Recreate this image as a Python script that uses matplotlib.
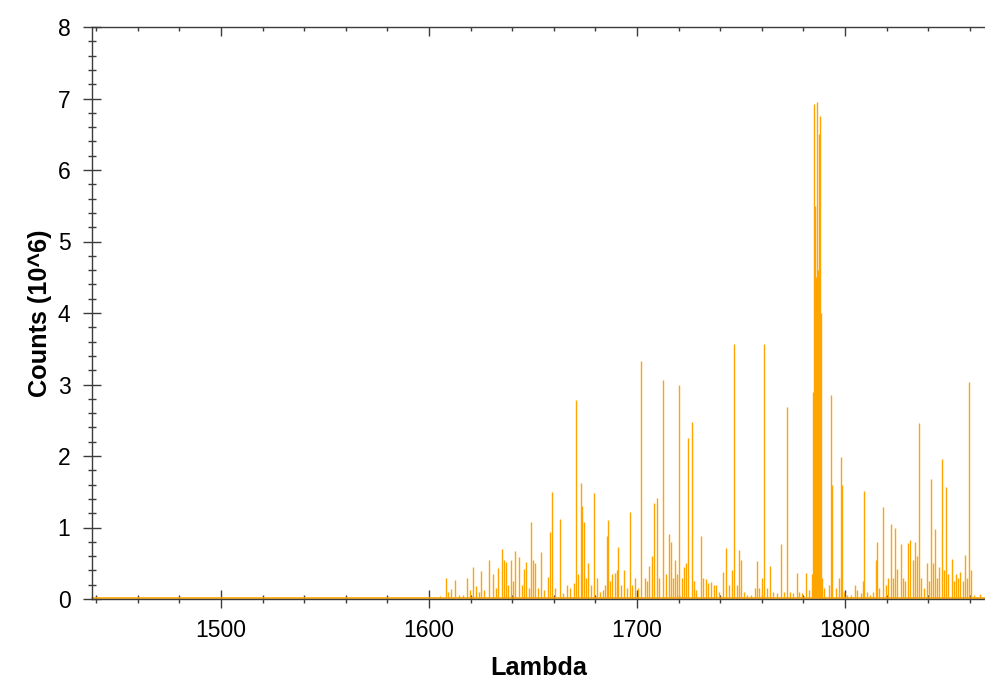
import matplotlib
matplotlib.use("Agg")
import matplotlib.pyplot as plt
from matplotlib.ticker import MultipleLocator

plt.rcParams['font.family'] = ['Liberation Sans', 'DejaVu Sans']

# posições dos picos (Lambda) e alturas (Counts em 10^6)
peak_lambda = [
    1590.0, 1603.0, 1605.5, 1608.0, 1609.2, 1610.6, 1612.4, 1614.5, 1616.5, 1618.1,
    1619.5, 1621.3, 1622.8, 1624.0, 1625.1, 1626.5, 1628.7, 1630.7, 1632.0, 1633.4,
    1635.0, 1636.0, 1637.0, 1638.2, 1639.3, 1640.3, 1641.3, 1643.2, 1644.5, 1645.7,
    1646.8, 1648.0, 1649.0, 1650.2, 1651.0, 1652.5, 1654.0, 1655.5, 1657.0, 1658.3,
    1659.3, 1660.5, 1663.0, 1664.5, 1666.5, 1667.8, 1669.5, 1670.5, 1671.5, 1673.1,
    1673.8, 1674.5, 1675.5, 1676.6, 1677.8, 1679.1, 1680.7, 1682.0, 1683.5, 1684.6,
    1685.4, 1686.2, 1687.2, 1688.0, 1689.3, 1690.4, 1691.0, 1692.3, 1693.8, 1695.0,
    1696.6, 1697.8, 1699.0, 1700.3, 1701.9, 1703.8, 1705.0, 1706.0, 1707.1, 1708.4,
    1709.5, 1710.8, 1712.7, 1713.8, 1715.2, 1716.2, 1717.2, 1718.2, 1719.2, 1720.4,
    1721.5, 1722.6, 1723.5, 1724.7, 1726.3, 1727.5, 1728.5, 1730.9, 1731.8, 1733.0,
    1734.2, 1735.5, 1736.8, 1738.2, 1739.5, 1741.3, 1742.6, 1744.0, 1745.5, 1746.6,
    1748.0, 1749.1, 1749.9, 1751.5, 1753.0, 1755.0, 1756.5, 1757.5, 1758.5, 1760.2,
    1761.1, 1762.3, 1764.0, 1765.5, 1767.2, 1769.1, 1770.5, 1772.3, 1773.5, 1775.0,
    1776.8, 1778.0, 1779.5, 1781.3, 1782.5, 1784.3, 1784.8, 1785.1, 1785.6, 1786.0,
    1786.4, 1786.9, 1787.5, 1788.0, 1788.3, 1789.0, 1790.0, 1792.3, 1793.3, 1793.8,
    1795.5, 1797.0, 1797.9, 1798.4, 1799.5, 1801.0, 1803.0, 1804.6, 1805.7, 1807.5,
    1808.8, 1809.3, 1810.5, 1812.0, 1813.5, 1815.0, 1815.4, 1816.5, 1818.4, 1819.5,
    1820.7, 1822.0, 1823.0, 1823.8, 1825.1, 1826.9, 1828.0, 1828.8, 1830.1, 1831.3,
    1832.5, 1833.7, 1834.6, 1835.7, 1836.5, 1837.8, 1839.3, 1840.3, 1841.5, 1842.3,
    1843.2, 1844.3, 1845.3, 1846.5, 1847.4, 1848.5, 1849.5, 1851.3, 1852.3, 1853.3,
    1854.2, 1855.5, 1856.5, 1857.7, 1858.8, 1859.8, 1860.6, 1862.0, 1863.5, 1865.0,
]
peak_counts = [
    0.02, 0.03, 0.04, 0.30, 0.10, 0.14, 0.27, 0.05, 0.06, 0.30,
    0.12, 0.45, 0.18, 0.10, 0.39, 0.12, 0.54, 0.35, 0.15, 0.43,
    0.70, 0.55, 0.52, 0.20, 0.54, 0.25, 0.67, 0.59, 0.20, 0.42,
    0.52, 0.15, 1.08, 0.55, 0.50, 0.15, 0.66, 0.12, 0.31, 0.94,
    1.49, 0.15, 1.12, 0.08, 0.20, 0.16, 0.22, 2.78, 0.35, 1.62,
    1.30, 1.08, 0.30, 0.50, 0.20, 1.48, 0.30, 0.10, 0.12, 0.20,
    0.88, 1.10, 0.25, 0.35, 0.37, 0.40, 0.73, 0.20, 0.40, 0.15,
    1.22, 0.20, 0.29, 0.15, 3.33, 0.30, 0.25, 0.46, 0.60, 1.34,
    1.41, 0.30, 3.06, 0.35, 0.91, 0.80, 0.30, 0.55, 0.35, 2.99,
    0.30, 0.45, 0.50, 2.25, 2.47, 0.25, 0.12, 0.88, 0.30, 0.28,
    0.22, 0.24, 0.20, 0.20, 0.10, 0.38, 0.71, 0.20, 0.40, 3.56,
    0.20, 0.69, 0.55, 0.10, 0.05, 0.05, 0.15, 0.53, 0.15, 0.30,
    3.57, 0.15, 0.46, 0.10, 0.08, 0.77, 0.10, 2.68, 0.10, 0.08,
    0.37, 0.10, 0.08, 0.37, 0.12, 0.35, 2.90, 6.93, 5.50, 4.50,
    6.95, 4.60, 6.50, 6.76, 4.00, 0.30, 0.15, 0.20, 2.86, 1.60,
    0.15, 0.30, 1.98, 1.60, 0.10, 0.06, 0.05, 0.20, 0.12, 0.08,
    0.25, 1.51, 0.10, 0.06, 0.10, 0.55, 0.80, 0.15, 1.29, 0.20,
    0.30, 1.05, 0.30, 1.00, 0.42, 0.77, 0.30, 0.25, 0.78, 0.82,
    0.55, 0.80, 0.60, 2.46, 0.30, 0.15, 0.50, 0.25, 1.68, 0.50,
    0.98, 0.30, 0.45, 1.96, 0.40, 1.56, 0.35, 0.56, 0.25, 0.35,
    0.30, 0.38, 0.25, 0.62, 0.30, 3.04, 0.40, 0.05, 0.03, 0.07,
]
background = 0.02

x_major = [1500, 1600, 1700, 1800]
y_major = [0, 1, 2, 3, 4, 5, 6, 7, 8]

orange = '#FFA500'
axis_color = '#3c3c3c'

fig = plt.figure(figsize=(9.85, 6.81), dpi=100)
ax = fig.add_axes([92 / 985, 1 - 599 / 681, 1 - 92 / 985, (599 - 27) / 681])

ax.axhline(background, color=orange, lw=1.2, zorder=2, clip_on=False)
ax.vlines(peak_lambda, background, peak_counts, color=orange, lw=1.0, zorder=2)

ax.set_xlim(1438, 1867.3)
ax.set_ylim(0, 8)

ax.set_xticks(x_major)
ax.set_yticks(y_major)
ax.xaxis.set_minor_locator(MultipleLocator(20))
ax.yaxis.set_minor_locator(MultipleLocator(0.2))

ax.tick_params(axis='both', which='major', direction='inout', length=13, width=1,
               color=axis_color, labelsize=16.5, labelcolor='black')
ax.tick_params(axis='both', which='minor', direction='inout', length=6, width=1,
               color=axis_color)
ax.tick_params(axis='x', which='major', pad=8)
ax.tick_params(axis='y', which='major', pad=9)
ax.tick_params(top=False, right=False, which='both')

for side in ['left', 'bottom']:
    ax.spines[side].set_color(axis_color)
    ax.spines[side].set_linewidth(1.0)
ax.spines['top'].set_visible(False)
ax.spines['right'].set_visible(False)

# eixo de cima só com marcas para dentro
top = ax.secondary_xaxis('top')
top.set_xticks(x_major)
top.xaxis.set_minor_locator(MultipleLocator(20))
top.tick_params(which='major', direction='in', length=6.5, width=1, color=axis_color,
                labeltop=False)
top.tick_params(which='minor', direction='in', length=3, width=1, color=axis_color)
top.spines['top'].set_color(axis_color)
top.spines['top'].set_linewidth(1.0)

ax.set_xlabel('Lambda', fontsize=18.2, fontweight='bold', labelpad=10)
ax.set_ylabel('Counts (10^6)', fontsize=18.2, fontweight='bold', labelpad=4)

fig.savefig('out.png', dpi=100)
